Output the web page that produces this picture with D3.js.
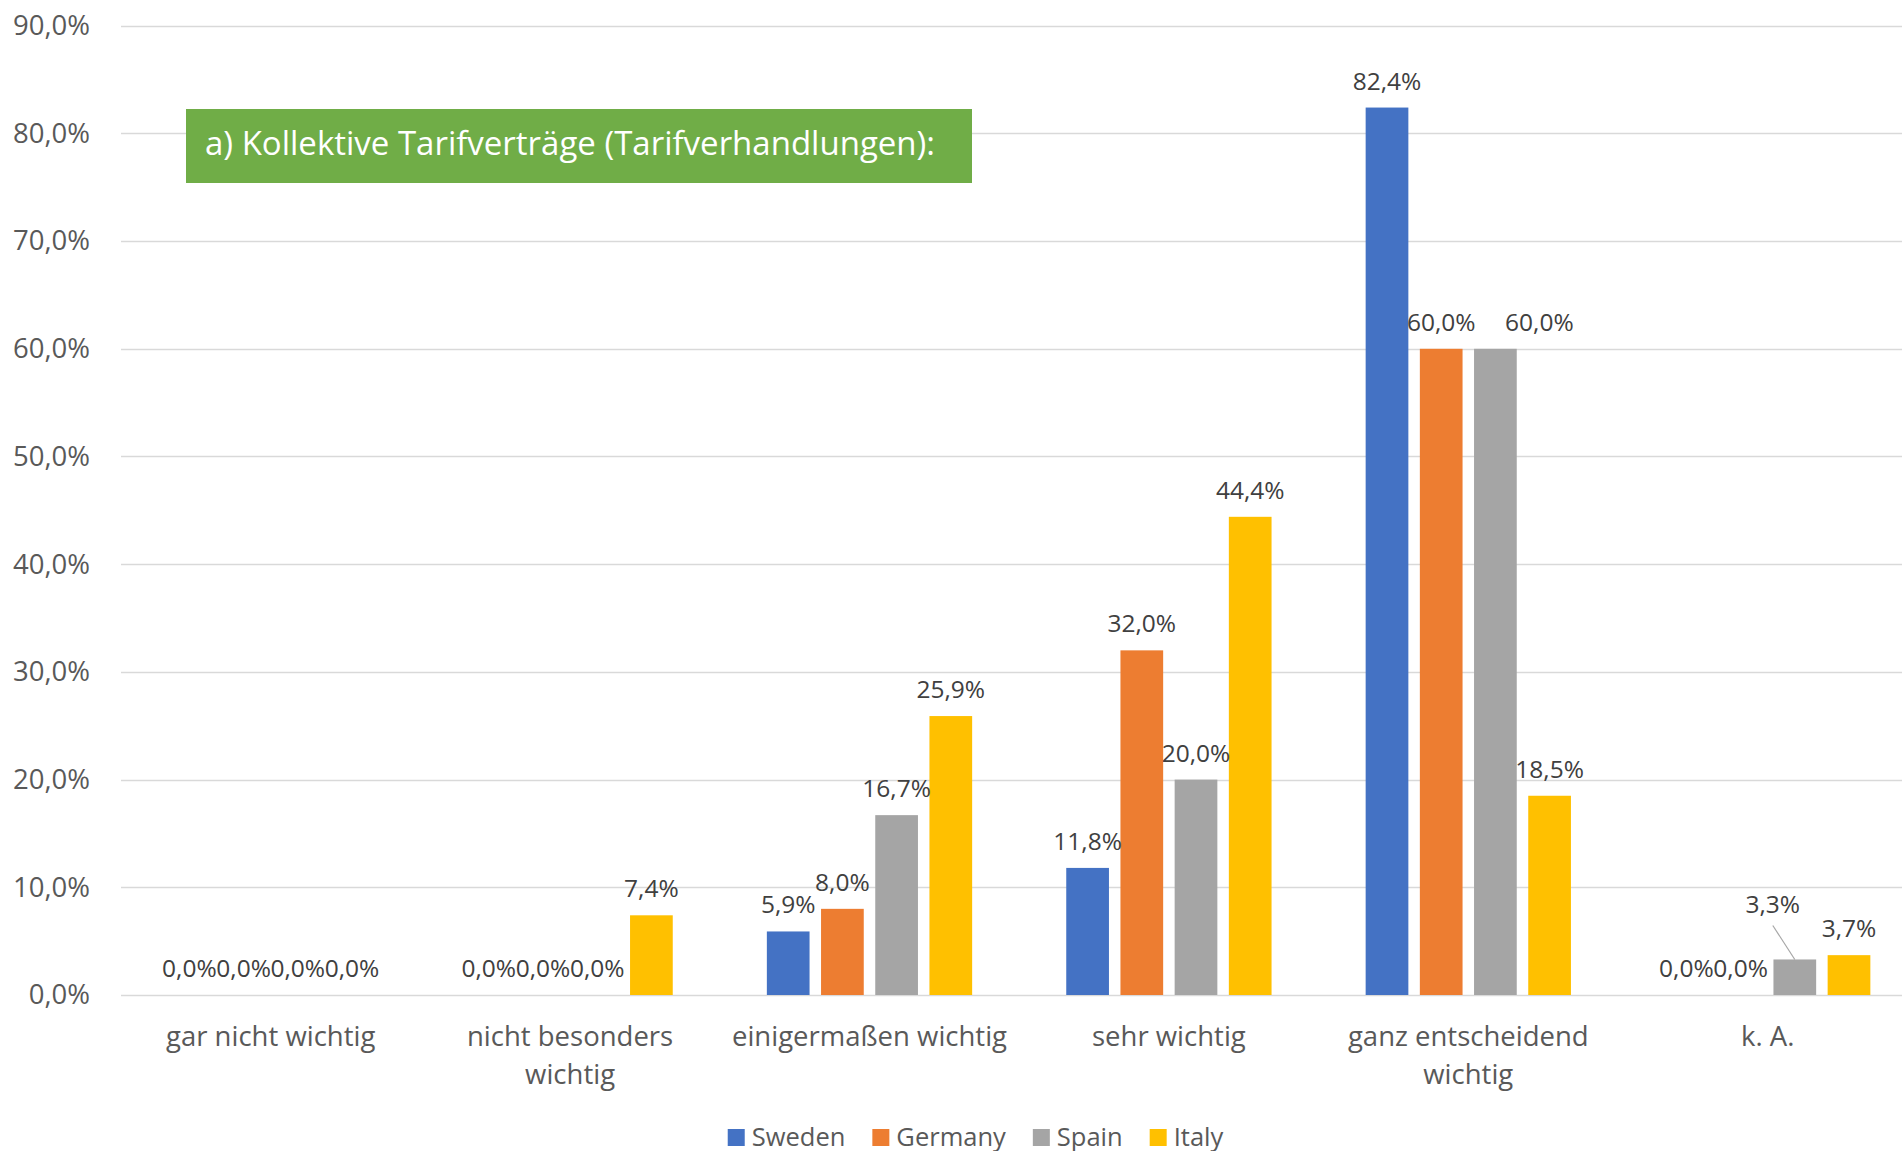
<!DOCTYPE html>
<html>
<head>
<meta charset="utf-8">
<script src="https://d3js.org/d3.v7.min.js"></script>
<style>
  body { margin: 0; background: #ffffff; }
  text { font-family: "Open Sans", sans-serif; }
</style>
</head>
<body>
<div id="chart"></div>
<script>
// data (percent)
var categories = ["gar nicht wichtig", "nicht besonders wichtig", "einigermaßen wichtig", "sehr wichtig", "ganz entscheidend wichtig", "k. A."];
var seriesNames = ["Sweden", "Germany", "Spain", "Italy"];
var sweden  = [0, 0, 5.9, 11.8, 82.4, 0];
var germany = [0, 0, 8.0, 32.0, 60.0, 0];
var spain   = [0, 0, 16.7, 20.0, 60.0, 3.3];
var italy   = [0, 7.4, 25.9, 44.4, 18.5, 3.7];
var yTicks  = [0, 10, 20, 30, 40, 50, 60, 70, 80, 90];
var boxLabel = "a) Kollektive Tarifverträge (Tarifverhandlungen):";

var colors = ["#4472c4", "#ed7d31", "#a5a5a5", "#ffc000"];
var seriesValues = [sweden, germany, spain, italy];

var W = 1902, H = 1151;
var margin = {top: 25.7, left: 121, bottom: 995};

var svg = d3.select("#chart")
            .append("svg")
            .attr("width", W)
            .attr("height", H);

svg.append("rect").attr("width", W).attr("height", H).attr("fill", "#ffffff");

var y = d3.scaleLinear().domain([0, 90]).range([margin.bottom, margin.top]);
var x0 = d3.scaleBand().domain(categories).range([margin.left, margin.left + 6 * 299.4]).padding(0);
var groupW = 205.3;
var x1 = d3.scaleBand().domain(seriesNames).range([0, groupW]).paddingInner(0.212).paddingOuter(0);
var groupOff = (x0.bandwidth() - groupW) / 2;

var fmt = function(v) { return d3.format(".1f")(v).replace(".", ",") + "%"; };

// gridlines
svg.append("g")
   .selectAll("line")
   .data(yTicks)
   .enter()
   .append("line")
   .attr("x1", margin.left)
   .attr("x2", W)
   .attr("y1", function(d) { return Math.round(y(d)) + 0.5; })
   .attr("y2", function(d) { return Math.round(y(d)) + 0.5; })
   .attr("stroke", "#d9d9d9")
   .attr("stroke-width", 1.5);

// y axis labels
var yAxis = svg.append("g")
               .attr("transform", "translate(90,0)")
               .call(d3.axisLeft(y).tickValues(yTicks).tickSize(0).tickPadding(0).tickFormat(fmt));
yAxis.select(".domain").remove();
yAxis.selectAll("text")
     .attr("fill", "#595959")
     .style("font-size", "27.5px")
     .style("font-family", "'Open Sans', sans-serif");

// rows: one per category / series
var rows = [];
categories.forEach(function(c, i) {
  seriesNames.forEach(function(s, j) {
    rows.push({cat: c, series: s, value: seriesValues[j][i], color: colors[j]});
  });
});

var barX = function(d) { return x0(d.cat) + groupOff + x1(d.series); };
var barC = function(d) { return barX(d) + x1.bandwidth() / 2; };

svg.append("g")
   .selectAll("rect")
   .data(rows.filter(function(d) { return d.value > 0; }))
   .enter()
   .append("rect")
   .attr("x", barX)
   .attr("y", function(d) { return y(d.value); })
   .attr("width", x1.bandwidth())
   .attr("height", function(d) { return y(0) - y(d.value); })
   .attr("fill", function(d) { return d.color; });

// a couple of labels were dragged away from their bar in the original
var shifted = {
  "ganz entscheidend wichtig|Spain": [44, 0],
  "k. A.|Spain": [-22, -28.5]
};
var shift = function(d) { return shifted[d.cat + "|" + d.series] || [0, 0]; };
var moved = function(d) { return d.cat === "k. A." && d.series === "Spain"; };

svg.append("g")
   .selectAll("line")
   .data(rows.filter(moved))
   .enter()
   .append("line")
   .attr("x1", function(d) { return barC(d) - 22; })
   .attr("y1", function(d) { return y(d.value) - 34; })
   .attr("x2", function(d) { return barC(d); })
   .attr("y2", function(d) { return y(d.value); })
   .attr("stroke", "#a6a6a6")
   .attr("stroke-width", 1.2);

svg.append("g")
   .selectAll("text")
   .data(rows)
   .enter()
   .append("text")
   .attr("x", function(d) { return barC(d) + shift(d)[0]; })
   .attr("y", function(d) { return y(d.value) - 18 + shift(d)[1]; })
   .attr("text-anchor", "middle")
   .attr("fill", "#404040")
   .style("font-size", "24.5px")
   .text(function(d) { return fmt(d.value); });

// category labels, wrapped to the band width
var catG = svg.append("g");
categories.forEach(function(c) {
  var t = catG.append("text")
              .attr("x", x0(c) + x0.bandwidth() / 2)
              .attr("y", 1046)
              .attr("text-anchor", "middle")
              .attr("fill", "#595959")
              .style("font-size", "27.5px");
  var words = c.split(" "), line = [];
  var span = t.append("tspan").attr("x", x0(c) + x0.bandwidth() / 2).attr("dy", 0);
  words.forEach(function(w) {
    line.push(w);
    span.text(line.join(" "));
    if (span.node().getComputedTextLength() > x0.bandwidth() - 8 && line.length > 1) {
      line.pop();
      span.text(line.join(" "));
      line = [w];
      span = t.append("tspan").attr("x", x0(c) + x0.bandwidth() / 2).attr("dy", 38).text(w);
    }
  });
});

// green annotation box
svg.append("rect")
   .attr("x", 186)
   .attr("y", 109)
   .attr("width", 786)
   .attr("height", 74)
   .attr("fill", "#70ad47");
svg.append("text")
   .attr("x", 205)
   .attr("y", 155)
   .attr("fill", "#ffffff")
   .style("font-size", "33px")
   .text(boxLabel);

// legend
var legend = svg.append("g");
var lx = 0;
seriesNames.forEach(function(s, i) {
  var item = legend.append("g").attr("transform", "translate(" + lx + ",0)");
  item.append("rect").attr("x", 0).attr("y", 1129).attr("width", 17).attr("height", 17).attr("fill", colors[i]);
  var t = item.append("text").attr("x", 24).attr("y", 1146).attr("fill", "#595959").style("font-size", "25.5px").text(s);
  lx += 24 + t.node().getComputedTextLength() + 27;
});
var legendW = lx - 27;
legend.attr("transform", "translate(" + (975.5 - legendW / 2) + ",0)");
</script>
</body>
</html>
